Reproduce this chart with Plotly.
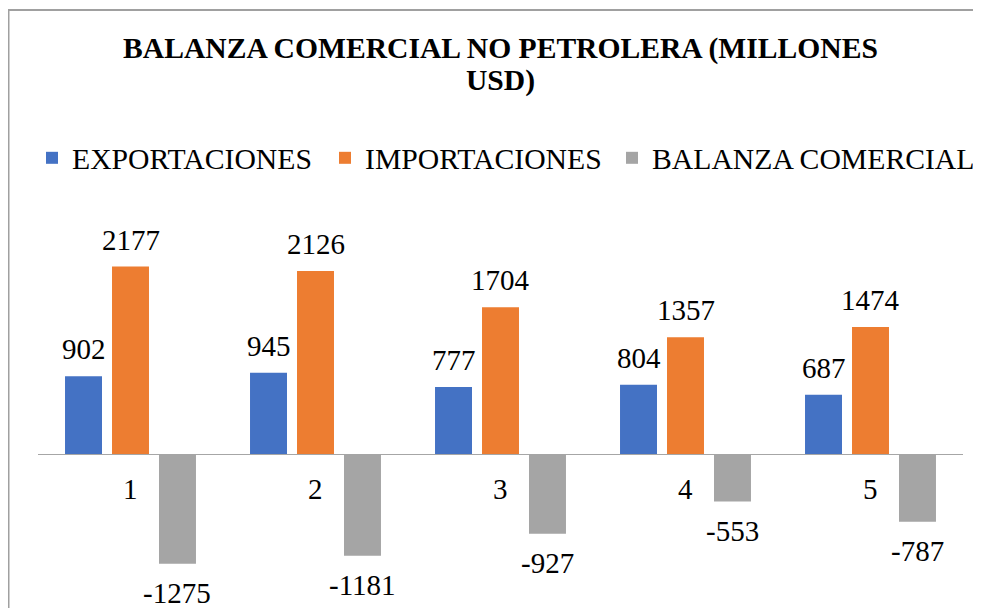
import plotly.graph_objects as go

categories = [1, 2, 3, 4, 5]
exportaciones = [902, 945, 777, 804, 687]
importaciones = [2177, 2126, 1704, 1357, 1474]
balanza = [-1275, -1181, -927, -553, -787]

title_line1 = "BALANZA COMERCIAL NO PETROLERA (MILLONES"
title_line2 = "USD)"

series = [
    ("EXPORTACIONES", exportaciones, "#4472C4"),
    ("IMPORTACIONES", importaciones, "#ED7D31"),
    ("BALANZA COMERCIAL", balanza, "#A5A5A5"),
]
legend_ids = ["legend", "legend2", "legend3"]
legend_text_x = [72, 365, 654]  # screen px where each legend text starts

FONT = "Liberation Serif"
LEG_SIZE = 29.7
W, H = 981, 608
OFF = 8  # page body margin
ML, MR, MT, MB = 38 - OFF, 26, 200 - OFF, 28
scale = 0.0861  # px per unit
zero_px = 454 - OFF
ytop = (zero_px - MT) / scale
ybot = -((H - MB) - zero_px) / scale

fig = go.Figure()
for (name, vals, color), lg in zip(series, legend_ids):
    fig.add_trace(go.Bar(x=categories, y=vals, name=name, marker_color=color,
                         marker_line_width=0, legend=lg))

bargap = 0.238
slot = (1 - bargap) / 3
pw = W - ML - MR
ph = H - MT - MB


def px_x(p):
    return (p - ML) / pw


def px_y(p):
    return ((H - MB) - p) / ph


annotations = []
for i, (name, vals, color) in enumerate(series):
    off = (i - 1) * slot
    for c, v in zip(categories, vals):
        annotations.append(dict(x=c + off, y=v, text=str(v), showarrow=False,
                                xref="x", yref="y", yanchor="middle",
                                yshift=27 if v >= 0 else -29,
                                font=dict(family=FONT, size=29, color="black")))
for c in categories:
    annotations.append(dict(x=c, y=0, text=str(c), showarrow=False, xref="x", yref="y",
                            yanchor="middle", yshift=-35,
                            font=dict(family=FONT, size=29, color="black")))
annotations.append(dict(x=0.5, y=px_y(80 - OFF), xref="paper", yref="paper",
                        xanchor="center", yanchor="middle", showarrow=False,
                        text="<b>" + title_line2 + "</b>",
                        font=dict(family=FONT, size=29.6, color="black")))

legends = {}
for k, (lg, tx) in enumerate(zip(legend_ids, legend_text_x)):
    d = dict(orientation="h", xref="container", yref="container",
             y=1 - (158 - OFF) / H, yanchor="middle",
             font=dict(family=FONT, size=LEG_SIZE, color="black"),
             bgcolor="rgba(0,0,0,0)")
    if k < 2:
        d.update(x=(tx - 40 - OFF) / W, xanchor="left")
    else:
        d.update(x=(980 - OFF) / W, xanchor="right")
    legends[lg] = d

fig.update_layout(
    width=W, height=H,
    margin=dict(l=ML, r=MR, t=MT, b=MB),
    paper_bgcolor="white", plot_bgcolor="white",
    barmode="group", bargap=bargap, bargroupgap=0.213,
    title=dict(text="<b>" + title_line1 + "</b>",
               x=0.5, xref="paper", xanchor="center",
               y=1 - (48 - OFF) / H, yref="container", yanchor="middle",
               font=dict(family=FONT, size=29.6, color="black")),
    xaxis=dict(range=[0.5, 5.5], visible=False, fixedrange=True),
    yaxis=dict(range=[ybot, ytop], showgrid=False, showticklabels=False,
               zeroline=True, zerolinecolor="#A6A6A6", zerolinewidth=1,
               fixedrange=True),
    annotations=annotations,
    shapes=[dict(type="rect", xref="paper", yref="paper",
                 x0=px_x(0.5), x1=px_x(W + 20), y0=px_y(H + 20), y1=px_y(10 - OFF),
                 line=dict(color="#A0A0A0", width=2), layer="below")],
    showlegend=True,
    **legends,
)

fig.write_html("out.html")
